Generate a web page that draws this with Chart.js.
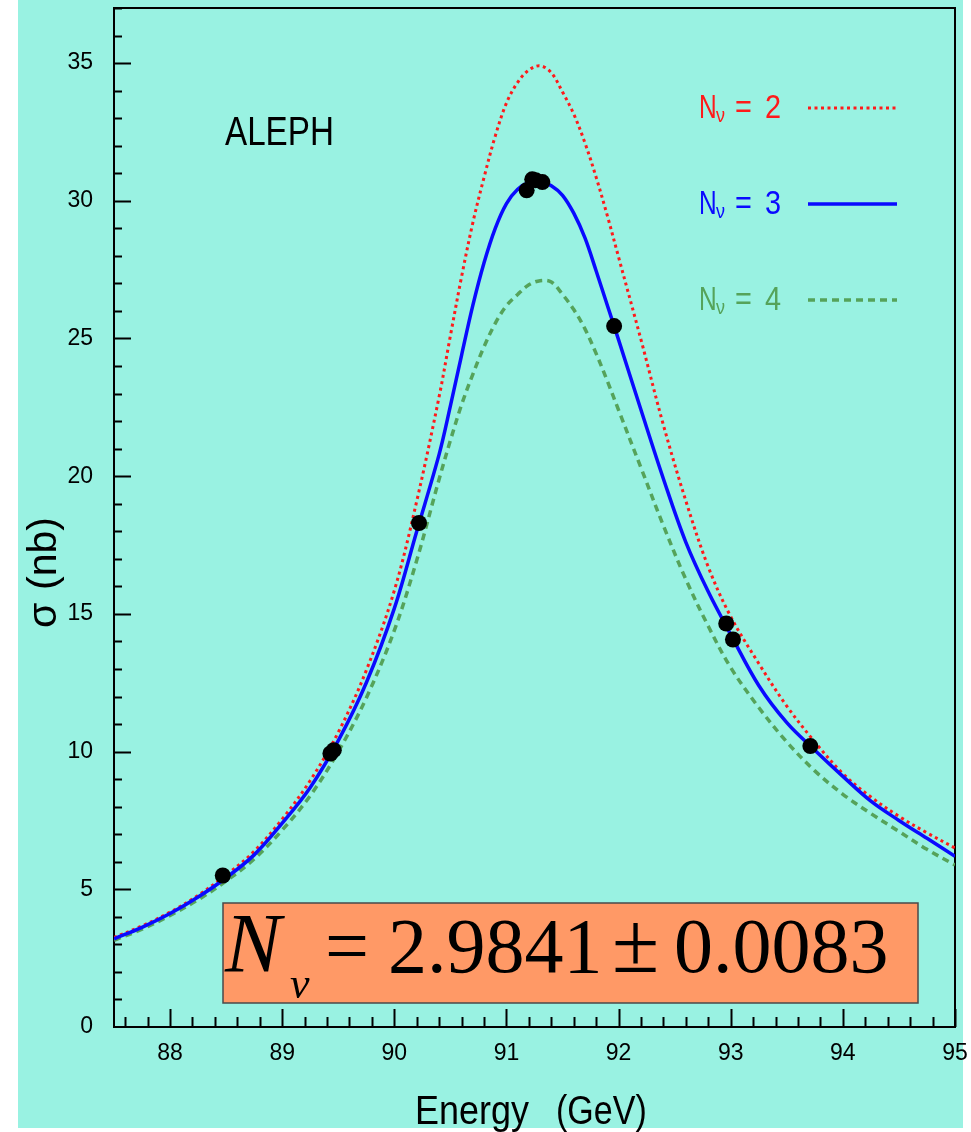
<!DOCTYPE html>
<html>
<head>
<meta charset="utf-8">
<script src="https://cdn.jsdelivr.net/npm/chart.js@4.4.1/dist/chart.umd.min.js"></script>
<style>
  html, body { margin: 0; padding: 0; background: #ffffff; }
  #wrap { position: relative; width: 971px; height: 1132px; }
  canvas { display: block; }
</style>
</head>
<body>
<div id="wrap"><canvas id="c" width="971" height="1132"></canvas></div>
<script>
// ---- data ----
const energyGrid = [87.5, 87.75, 88.0, 88.25, 88.5, 88.75, 89.0, 89.25, 89.5, 89.75, 90.0, 90.2, 90.4, 90.5, 90.6, 90.7, 90.8, 90.9, 91.0, 91.1, 91.2, 91.3, 91.4, 91.5, 91.6, 91.7, 91.8, 91.9, 92.0, 92.2, 92.4, 92.6, 92.8, 93.0, 93.25, 93.5, 93.75, 94.0, 94.25, 94.5, 94.75, 95.0];
const sigmaNnu2 = [3.25, 3.67, 4.17, 4.78, 5.52, 6.38, 7.55, 8.95, 10.7, 12.95, 15.85, 19.1, 22.9, 25.1, 27.25, 29.2, 30.85, 32.35, 33.55, 34.3, 34.75, 34.9, 34.65, 33.95, 33.15, 32.1, 30.85, 29.45, 27.95, 24.95, 21.85, 19.1, 16.7, 14.9, 13.2, 11.65, 10.35, 9.2, 8.35, 7.65, 7.05, 6.5];
const sigmaNnu3 = [3.2, 3.62, 4.12, 4.72, 5.42, 6.25, 7.4, 8.7, 10.4, 12.5, 15.2, 18.0, 20.8, 22.55, 24.4, 26.2, 27.75, 29.0, 29.9, 30.42, 30.67, 30.7, 30.55, 30.2, 29.55, 28.65, 27.45, 26.2, 24.95, 22.4, 19.9, 17.6, 15.8, 14.25, 12.4, 11.05, 10.05, 9.1, 8.2, 7.5, 6.85, 6.2];
const sigmaNnu4 = [3.15, 3.55, 4.05, 4.62, 5.3, 6.1, 7.15, 8.4, 10.0, 11.95, 14.4, 16.95, 19.9, 21.3, 22.6, 23.7, 24.7, 25.55, 26.19, 26.6, 26.95, 27.1, 27.05, 26.6, 26.05, 25.35, 24.45, 23.45, 22.4, 20.3, 18.2, 16.25, 14.55, 13.05, 11.6, 10.35, 9.3, 8.45, 7.75, 7.1, 6.45, 5.88];
const measEnergy = [88.47, 89.43, 89.46, 90.22, 91.18, 91.23, 91.26, 91.32, 91.96, 92.96, 93.02, 93.71];
const measSigma  = [5.5, 9.93, 10.05, 18.3, 30.38, 30.78, 30.75, 30.68, 25.45, 14.65, 14.07, 10.2];
const xTickValues = [88, 89, 90, 91, 92, 93, 94, 95];
const yTickValues = [0, 5, 10, 15, 20, 25, 30, 35];
const legendValues = ['2', '3', '4'];
const experimentLabel = 'ALEPH';
const xTitleParts = ['Energy', '(GeV)'];
const yTitleParts = ['\u03c3', '(nb)'];
const resultParts = { sym: 'N', sub: '\u03bd', eq: '=', val: '2.9841', pm: '\u00b1', err: '0.0083' };

// ---- styles ----
const CYAN = '#99f2e2';
const RED = '#ff1a1a';
const BLUE = '#0a0aff';
const GREEN = '#55a35a';
const SANS = "'Liberation Sans', Arial, sans-serif";
const SERIF = "'Liberation Serif', 'DejaVu Serif', serif";

function toPts(xs, ys) { return xs.map((x, i) => ({ x: x, y: ys[i] })); }

// draw horizontally condensed text (narrow sans look)
function narrowText(ctx, txt, x, y, size, squeeze) {
  ctx.save();
  ctx.translate(x, y);
  ctx.scale(squeeze, 1);
  ctx.font = size + 'px ' + SANS;
  ctx.fillText(txt, 0, 0);
  ctx.restore();
}

const decorPlugin = {
  id: 'decor',
  beforeDraw(chart) {
    const ctx = chart.ctx;
    ctx.save();
    ctx.fillStyle = '#ffffff';
    ctx.fillRect(0, 0, chart.width, chart.height);
    ctx.fillStyle = CYAN;
    ctx.fillRect(18, 0, 945, 1128);
    ctx.restore();
  },
  beforeDatasetsDraw(chart) {
    const ctx = chart.ctx, a = chart.chartArea;
    const xs = chart.scales.x, ys = chart.scales.y;
    ctx.save();
    ctx.strokeStyle = '#000';
    ctx.lineWidth = 2;
    ctx.strokeRect(a.left, a.top, a.right - a.left, a.bottom - a.top);
    ctx.beginPath();
    for (let i = 0; ; i++) {
      const v = xs.min + 0.1 + i * 0.2;
      if (v > xs.max + 1e-6) break;
      const major = Math.abs(v - Math.round(v)) < 1e-6;
      const px = Math.round(xs.getPixelForValue(v)) + 0.5;
      const len = major ? 18 : 10;
      ctx.moveTo(px, a.bottom);
      ctx.lineTo(px, a.bottom - len);
    }
    for (let v = ys.min + 1; v < ys.max + 1e-6; v += 1) {
      const major = v % 5 === 0;
      const py = Math.round(ys.getPixelForValue(v)) + 0.5;
      const len = major ? 17 : 8;
      ctx.moveTo(a.left, py);
      ctx.lineTo(a.left + len, py);
    }
    ctx.stroke();
    ctx.restore();
  },
  afterDatasetsDraw(chart) {
    const ctx = chart.ctx;
    ctx.save();
    ctx.textBaseline = 'alphabetic';
    ctx.textAlign = 'left';
    // experiment label
    ctx.fillStyle = '#000';
    narrowText(ctx, experimentLabel, 225, 145, 40, 0.83);

    // legend
    const rowsBase = [118, 214, 310];
    chart.data.datasets.slice(0, 3).forEach((ds, i) => {
      const b = rowsBase[i];
      ctx.fillStyle = ds.borderColor;
      narrowText(ctx, 'N', 699, b, 34, 0.72);
      narrowText(ctx, '\u03bd', 716, b + 4, 20, 0.9);
      narrowText(ctx, '=', 735, b, 34, 0.85);
      narrowText(ctx, legendValues[i], 765, b, 34, 0.85);
      ctx.strokeStyle = ds.borderColor;
      ctx.lineWidth = ds.borderWidth;
      ctx.setLineDash(ds.borderDash || []);
      ctx.beginPath();
      ctx.moveTo(808, b - 10);
      ctx.lineTo(897, b - 10);
      ctx.stroke();
      ctx.setLineDash([]);
    });

    // result box
    ctx.fillStyle = '#ff9966';
    ctx.fillRect(223, 903, 695, 100);
    ctx.strokeStyle = '#4a4a4a';
    ctx.lineWidth = 1.5;
    ctx.strokeRect(223, 903, 695, 100);
    ctx.fillStyle = '#000';
    ctx.font = 'italic 84px ' + SERIF;
    ctx.fillText(resultParts.sym, 225, 972);
    ctx.font = 'italic 44px ' + SERIF;
    ctx.fillText(resultParts.sub, 290, 998);
    ctx.font = '78px ' + SERIF;
    ctx.fillText(resultParts.eq, 325, 972);
    ctx.fillText(resultParts.val, 388, 972);
    ctx.font = '86px ' + SERIF;
    ctx.fillText(resultParts.pm, 612, 972);
    ctx.font = '78px ' + SERIF;
    ctx.fillText(resultParts.err, 674, 972);

    // axis titles
    ctx.fillStyle = '#000';
    narrowText(ctx, xTitleParts[0], 415, 1124, 41, 0.877);
    narrowText(ctx, xTitleParts[1], 556, 1124, 41, 0.83);
    ctx.save();
    ctx.translate(56, 628);
    ctx.rotate(-Math.PI / 2);
    ctx.font = '41px ' + SANS;
    ctx.fillText(yTitleParts[0], 0, 0);
    ctx.fillText(yTitleParts[1], 38, 0);
    ctx.restore();
    ctx.restore();
  }
};

function zeroPad(s) { s.paddingTop = 0; s.paddingBottom = 0; s.paddingLeft = 0; s.paddingRight = 0; }

const curveStyle = { showLine: true, pointRadius: 0, cubicInterpolationMode: 'default', tension: 0.35, fill: false };

const ctx = document.getElementById('c').getContext('2d');
new Chart(ctx, {
  type: 'scatter',
  data: {
    datasets: [
      Object.assign({ label: 'N\u03bd = 2', data: toPts(energyGrid, sigmaNnu2), borderColor: RED, borderWidth: 3, borderDash: [3, 3.5], order: 3 }, curveStyle),
      Object.assign({ label: 'N\u03bd = 3', data: toPts(energyGrid, sigmaNnu3), borderColor: BLUE, borderWidth: 3.5, borderDash: [], order: 2 }, curveStyle),
      Object.assign({ label: 'N\u03bd = 4', data: toPts(energyGrid, sigmaNnu4), borderColor: GREEN, borderWidth: 3.5, borderDash: [7, 5], order: 4 }, curveStyle),
      { label: 'ALEPH data', data: toPts(measEnergy, measSigma), showLine: false, pointRadius: 8, pointBackgroundColor: '#000', pointBorderWidth: 0, borderColor: '#000', order: 1 }
    ]
  },
  options: {
    responsive: false,
    animation: false,
    devicePixelRatio: 1,
    layout: { padding: { left: 0, right: 16, top: 6, bottom: 0 } },
    plugins: { legend: { display: false }, tooltip: { enabled: false } },
    scales: {
      x: {
        type: 'linear', min: 87.5, max: 95,
        afterBuildTicks: (s) => { s.ticks = xTickValues.map(v => ({ value: v })); },
        afterFit: (s) => { s.height = 105; zeroPad(s); },
        grid: { display: false, drawTicks: false },
        border: { display: false },
        ticks: { color: '#000', font: { family: SANS, size: 23 }, padding: 13, maxRotation: 0, autoSkip: false }
      },
      y: {
        type: 'linear', min: 0, max: 37,
        afterBuildTicks: (s) => { s.ticks = yTickValues.map(v => ({ value: v })); },
        afterFit: (s) => { s.width = 114; zeroPad(s); },
        grid: { display: false, drawTicks: false },
        border: { display: false },
        ticks: { color: '#000', font: { family: SANS, size: 23 }, padding: 21, autoSkip: false }
      }
    }
  },
  plugins: [decorPlugin]
});
</script>
</body>
</html>
